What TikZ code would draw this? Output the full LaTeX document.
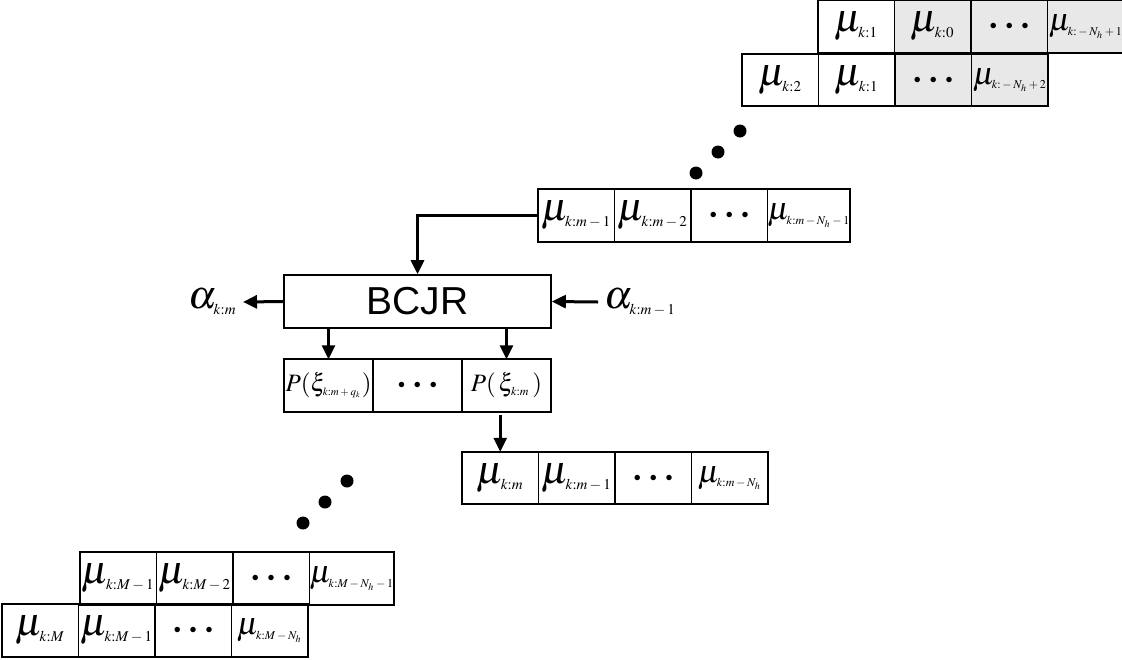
\documentclass[tikz,border=0pt]{standalone}
\usepackage{fontspec}
\usepackage{mathptmx}
\usetikzlibrary{positioning,arrows.meta}
\newfontfamily\bcjrfont{Liberation Sans}
\newcommand{\subsize}[2]{\mbox{\fontsize{#1}{#1}\selectfont$#2$}}
\newcommand{\mub}[1]{$\mu_{\subsize{7.5}{#1}}$}
\newcommand{\mus}[1]{$\mu_{\subsize{6}{#1}}$}
\newcommand{\dotcell}{{\fontsize{7}{8}\selectfont$\bullet\hspace{3.5pt}\bullet\hspace{3.5pt}\bullet$}}
\tikzset{
    cell/.style = {draw, line width=0.8pt, rectangle, minimum width=38.25pt, minimum height=26.25pt, inner sep=0pt, outer sep=0pt, font=\fontsize{20}{22}\selectfont},
    shaded/.style = {fill=black!9},
    small-cell/.style = {font=\fontsize{16}{18}\selectfont},
    p-cell/.style = {cell, minimum width=44.5pt, font=\fontsize{12.5}{14}\selectfont},
    alpha-label/.style = {inner sep=3pt, font=\fontsize{20}{22}\selectfont},
    arr/.style = {line width=1.5pt, -{Triangle[length=7pt,width=6.5pt]}},
}

\begin{document}
\begin{tikzpicture}[x=0.5pt, y=-0.5pt]
\useasboundingbox (0,0) rectangle (1122,659);

% first sample, upper right
\node[cell, anchor=west] (t1) at (818,26.5) {\mub{k{:}1}};
\node[cell, shaded, right=0pt of t1] (t2) {\mub{k{:}0}};
\node[cell, shaded, right=0pt of t2] (t3) {\dotcell};
\node[cell, shaded, small-cell, right=0pt of t3] (t4) {\mus{k{:}-N_h+1}};

\node[cell, anchor=west] (s1) at (742,80) {\mub{k{:}2}};
\node[cell, right=0pt of s1] (s2) {\mub{k{:}1}};
\node[cell, shaded, right=0pt of s2] (s3) {\dotcell};
\node[cell, shaded, small-cell, right=0pt of s3] (s4) {\mus{k{:}-N_h+2}};

\fill (696,173) circle (3.25pt) (718,152) circle (3.25pt) (740,131) circle (3.25pt);

% buffer at step m-1
\node[cell, anchor=west] (m1) at (538,215.5) {\mub{k{:}m-1}};
\node[cell, right=0pt of m1] (m2) {\mub{k{:}m-2}};
\node[cell, right=0pt of m2] (m3) {\dotcell};
\node[cell, small-cell, right=0pt of m3] (m4) {\mus{k{:}m-N_h-1}};

% decoder
\node[draw, line width=0.8pt, minimum width=133.5pt, minimum height=26.5pt, font=\bcjrfont\fontsize{19.5}{21}\selectfont] (bcjr) at (417.5,301.5) {BCJR};
\node[alpha-label, anchor=west] (alphaIn) at (598,302) {$\alpha_{\subsize{7.5}{k{:}m-1}}$};
\node[alpha-label, anchor=east] (alphaOut) at (243,302) {$\alpha_{\subsize{7.5}{k{:}m}}$};

\node[p-cell, anchor=west] (p1) at (284,385.5) {$P(\xi_{\subsize{5.5}{k{:}m+q_k}})$};
\node[p-cell, right=0pt of p1] (p2) {\dotcell};
\node[p-cell, right=0pt of p2] (p3) {$P(\,\xi_{\subsize{6}{k{:}m}}\,)$};

% buffer at step m
\node[cell, anchor=west] (b1) at (462,478) {\mub{k{:}m}};
\node[cell, right=0pt of b1] (b2) {\mub{k{:}m-1}};
\node[cell, right=0pt of b2] (b3) {\dotcell};
\node[cell, small-cell, right=0pt of b3] (b4) {\mus{k{:}m-N_h}};

\fill (303,523) circle (3.25pt) (325,502) circle (3.25pt) (347,481) circle (3.25pt);

% last sample, lower left
\node[cell, anchor=west] (l1) at (80,578.5) {\mub{k{:}M-1}};
\node[cell, right=0pt of l1] (l2) {\mub{k{:}M-2}};
\node[cell, right=0pt of l2] (l3) {\dotcell};
\node[cell, small-cell, right=0pt of l3] (l4) {\mus{k{:}M-N_h-1}};

\node[cell, anchor=west] (r1) at (2,630.5) {\mub{k{:}M}};
\node[cell, right=0pt of r1] (r2) {\mub{k{:}M-1}};
\node[cell, right=0pt of r2] (r3) {\dotcell};
\node[cell, small-cell, right=0pt of r3] (r4) {\mus{k{:}M-N_h}};

% connections
\draw[arr] (m1.west) -| (bcjr.north);
\draw[arr] (alphaIn.west) -- (bcjr.east);
\draw[arr] (bcjr.west) -- (alphaOut.east);
\draw[arr] (bcjr.south -| p1.north) -- (p1.north);
\draw[arr] (bcjr.south -| p3.north) -- (p3.north);
\draw[arr, shorten <=1.5pt] (p3.south -| b1.north) -- (b1.north);
\end{tikzpicture}
\end{document}
